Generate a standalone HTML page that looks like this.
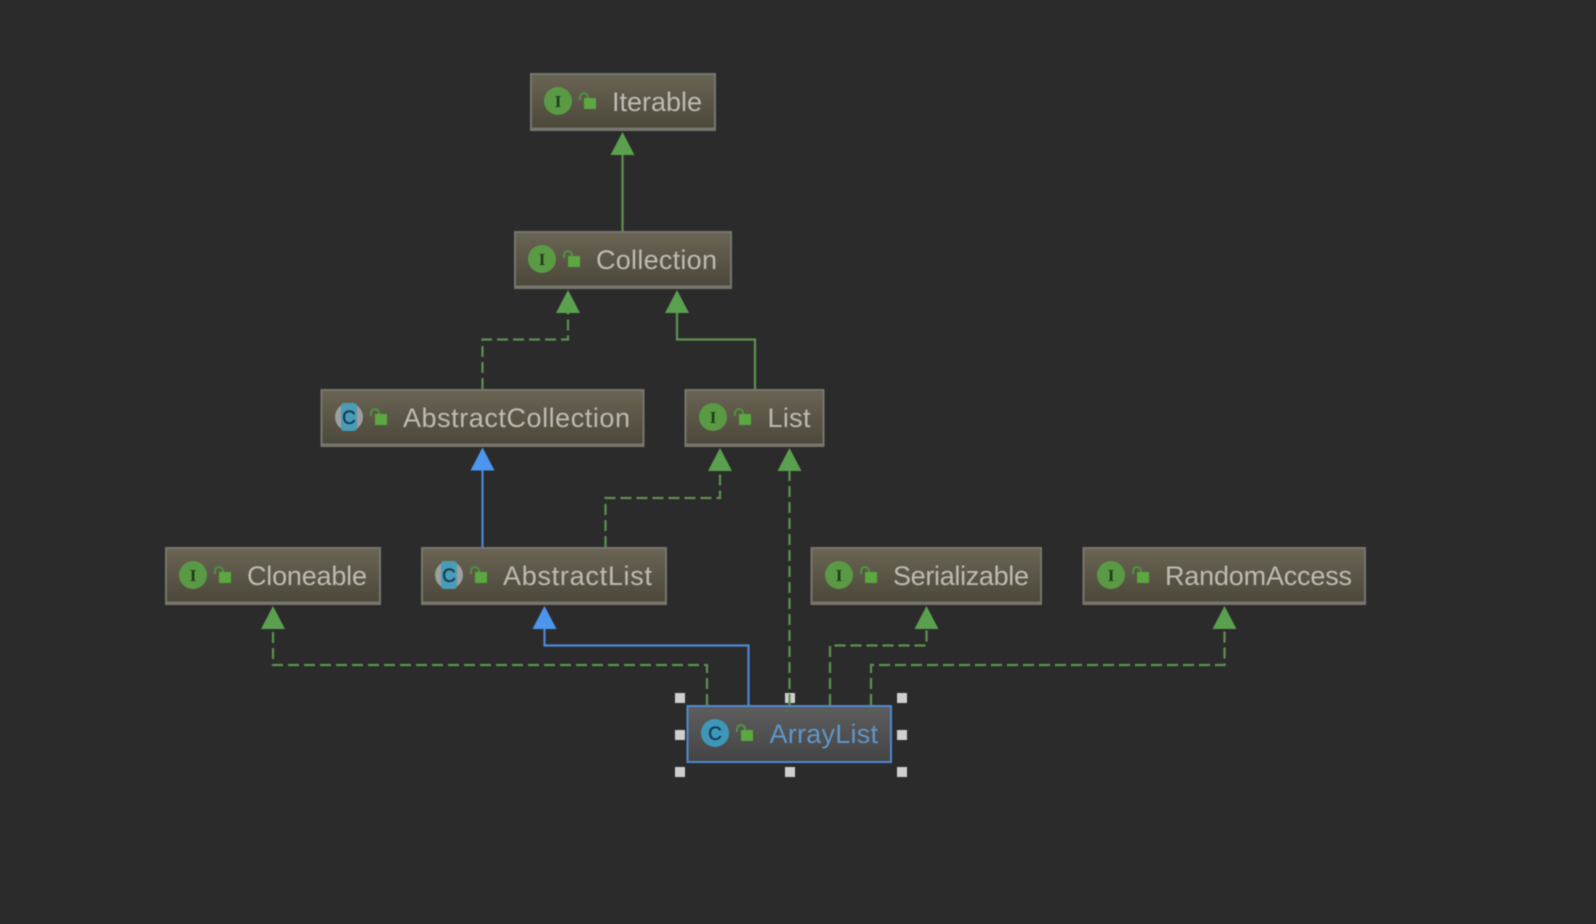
<!DOCTYPE html>
<html><head><meta charset="utf-8"><style>
html,body{margin:0;padding:0;background:#2b2b2b;width:1596px;height:924px;overflow:hidden}
svg{display:block;filter:blur(.55px)}
.t{font-family:"Liberation Sans",sans-serif;font-size:27px;fill:#bdbbb3}
.l{font-family:"Liberation Serif",serif;font-size:17px;font-weight:bold;fill:#1f3d17;text-anchor:middle}
.c{font-family:"Liberation Sans",sans-serif;font-size:19px;fill:#123c5a;text-anchor:middle;stroke:#123c5a;stroke-width:.4}
.g{fill:none;stroke:#5e9150;stroke-width:2.2}
.d{fill:none;stroke:#5e9150;stroke-width:2.2;stroke-dasharray:11 5}
.b{fill:none;stroke:#4d88d6;stroke-width:2.2}
.ag{fill:#5aa04e}.ab{fill:#4d96ee}
.h{fill:#cfcfcf}
.e{fill:#77766d}
</style></head><body>
<svg width="1596" height="924" viewBox="0 0 1596 924" xmlns="http://www.w3.org/2000/svg">
<defs>
<linearGradient id="n" x1="0" y1="0" x2="0" y2="1"><stop offset="0" stop-color="#6a6453"/><stop offset="1" stop-color="#4b473a"/></linearGradient>
<linearGradient id="s" x1="0" y1="0" x2="0" y2="1"><stop offset="0" stop-color="#5e5e5e"/><stop offset="1" stop-color="#444444"/></linearGradient>
<g id="lock"><path d="M0 -1V-4a4 4 0 0 1 8 0V-3" fill="none" stroke="#4f9440" stroke-width="2"/><rect x="4" y="-3" width="12" height="11" fill="#5aa83f"/></g>
</defs>
<rect width="1596" height="924" fill="#2b2b2b"/>

<!-- handles -->
<rect class="h" x="675" y="693" width="10" height="10"/>
<rect class="h" x="785" y="693" width="10" height="10"/>
<rect class="h" x="897" y="693" width="10" height="10"/>
<rect class="h" x="675" y="730" width="10" height="10"/>
<rect class="h" x="897" y="730" width="10" height="10"/>
<rect class="h" x="675" y="767" width="10" height="10"/>
<rect class="h" x="785" y="767" width="10" height="10"/>
<rect class="h" x="897" y="767" width="10" height="10"/>

<!-- connectors -->
<path class="g" d="M622.500 231V150"/>
<path class="d" d="M482.500 389V339.500H568V308"/>
<path class="g" d="M755 389V339.500H677V308"/>
<path class="b" d="M482.500 547V466"/>
<path class="d" d="M605.500 547V498H720V467"/>
<path class="d" d="M789.500 705V467"/>
<path class="d" d="M707 705V665H273V625"/>
<path class="b" d="M748.500 705V645.500H544.500V625"/>
<path class="d" d="M830 705V645.500H926.500V625"/>
<path class="d" d="M871 705V665H1224.500V625"/>

<!-- arrowheads -->
<path class="ag" d="M622.500 132L634.500 155H610.500Z"/>
<path class="ag" d="M568 290L580 313H556Z"/>
<path class="ag" d="M677 290L689 313H665Z"/>
<path class="ab" d="M482.500 447.500L494.500 470.500H470.500Z"/>
<path class="ag" d="M720 448L732 471H708Z"/>
<path class="ag" d="M789.500 448L801.500 471H777.500Z"/>
<path class="ag" d="M273 606L285 629H261Z"/>
<path class="ab" d="M544.500 606L556.500 629H532.500Z"/>
<path class="ag" d="M926.500 606L938.500 629H914.500Z"/>
<path class="ag" d="M1224.500 606L1236.500 629H1212.500Z"/>

<!-- Iterable -->
<rect x="531" y="74" width="184" height="56" fill="url(#n)" stroke="#77766d" stroke-width="2"/>
<rect class="e" x="531" y="127.500" width="184" height="2.500"/>
<circle cx="558" cy="101" r="14" fill="#5a9a45"/><text class="l" x="558" y="107">I</text>
<use href="#lock" x="580" y="101"/>
<text class="t" x="612" y="111" textLength="90">Iterable</text>

<!-- Collection -->
<rect x="515" y="232" width="216" height="56" fill="url(#n)" stroke="#77766d" stroke-width="2"/>
<rect class="e" x="515" y="285.500" width="216" height="2.500"/>
<circle cx="542" cy="259" r="14" fill="#5a9a45"/><text class="l" x="542" y="265">I</text>
<use href="#lock" x="564" y="259"/>
<text class="t" x="596" y="269" textLength="121">Collection</text>

<!-- AbstractCollection -->
<rect x="321.500" y="390" width="322" height="56" fill="url(#n)" stroke="#77766d" stroke-width="2"/>
<rect class="e" x="321.500" y="443.500" width="322" height="2.500"/>
<circle cx="349" cy="417" r="14" fill="#9b9f9f"/><rect x="341" y="403" width="16" height="28" rx="3" fill="#4a9cb4"/><text class="c" x="349" y="424">C</text>
<use href="#lock" x="371" y="417"/>
<text class="t" x="403" y="427" textLength="227">AbstractCollection</text>

<!-- List -->
<rect x="685.500" y="390" width="138" height="56" fill="url(#n)" stroke="#77766d" stroke-width="2"/>
<rect class="e" x="685.500" y="443.500" width="138" height="2.500"/>
<circle cx="713" cy="417" r="14" fill="#5a9a45"/><text class="l" x="713" y="423">I</text>
<use href="#lock" x="735" y="417"/>
<text class="t" x="767.500" y="427" textLength="43">List</text>

<!-- Cloneable -->
<rect x="166" y="548" width="214" height="56" fill="url(#n)" stroke="#77766d" stroke-width="2"/>
<rect class="e" x="166" y="601.500" width="214" height="2.500"/>
<circle cx="193" cy="575" r="14" fill="#5a9a45"/><text class="l" x="193" y="581">I</text>
<use href="#lock" x="215" y="575"/>
<text class="t" x="247" y="585" textLength="120">Cloneable</text>

<!-- AbstractList -->
<rect x="422" y="548" width="244" height="56" fill="url(#n)" stroke="#77766d" stroke-width="2"/>
<rect class="e" x="422" y="601.500" width="244" height="2.500"/>
<circle cx="449" cy="575" r="14" fill="#9b9f9f"/><rect x="441" y="561" width="16" height="28" rx="3" fill="#4a9cb4"/><text class="c" x="449" y="582">C</text>
<use href="#lock" x="471" y="575"/>
<text class="t" x="503" y="585" textLength="149">AbstractList</text>

<!-- Serializable -->
<rect x="811.500" y="548" width="229.500" height="56" fill="url(#n)" stroke="#77766d" stroke-width="2"/>
<rect class="e" x="811.500" y="601.500" width="229.500" height="2.500"/>
<circle cx="839" cy="575" r="14" fill="#5a9a45"/><text class="l" x="839" y="581">I</text>
<use href="#lock" x="861" y="575"/>
<text class="t" x="893" y="585" textLength="136">Serializable</text>

<!-- RandomAccess -->
<rect x="1083.500" y="548" width="281.500" height="56" fill="url(#n)" stroke="#77766d" stroke-width="2"/>
<rect class="e" x="1083.500" y="601.500" width="281.500" height="2.500"/>
<circle cx="1111" cy="575" r="14" fill="#5a9a45"/><text class="l" x="1111" y="581">I</text>
<use href="#lock" x="1133" y="575"/>
<text class="t" x="1165" y="585" textLength="187">RandomAccess</text>

<!-- ArrayList -->
<rect x="687.500" y="706" width="203.500" height="56" fill="url(#s)" stroke="#5089cf" stroke-width="2"/>
<circle cx="715" cy="733" r="14" fill="#3f97b8"/><text class="c" x="715" y="740">C</text>
<use href="#lock" x="737" y="733"/>
<text class="t" x="769.500" y="743" textLength="108.500" style="fill:#5f96c9">ArrayList</text>
</svg>
</body></html>
